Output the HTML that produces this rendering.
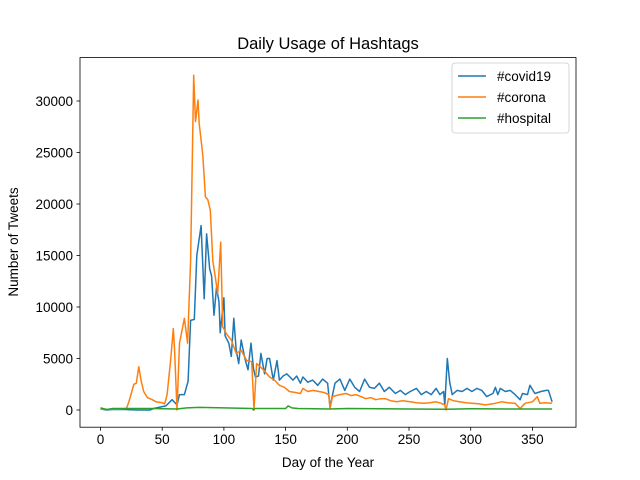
<!DOCTYPE html>
<html><head><meta charset="utf-8"><style>
body{margin:0;background:#fff;}
svg{display:block;font-family:"Liberation Sans","DejaVu Sans",sans-serif;}
</style></head><body>
<svg id="chart" width="640" height="480" xmlns="http://www.w3.org/2000/svg">
<rect width="640" height="480" fill="#fff"/>
<text x="328" y="49" font-size="16.5" text-anchor="middle">Daily Usage of Hashtags</text>
<g id="plot"></g>
<g id="axes"></g>
<rect x="80" y="57.6" width="496" height="369.6" fill="none" stroke="#000" stroke-width="0.8"/>
<text x="328" y="467" font-size="13.5" text-anchor="middle">Day of the Year</text>
<text transform="translate(18,242) rotate(-90)" font-size="13.5" text-anchor="middle">Number of Tweets</text>
<g>
<rect x="452" y="63" width="117" height="70" rx="3" fill="#fff" fill-opacity="0.8" stroke="#ccc" stroke-width="0.8"/>
<g><line x1="458" y1="76" x2="486" y2="76" stroke="#1f77b4" stroke-width="1.5"/><text x="497" y="81" font-size="13.5">#covid19</text></g>
<g><line x1="458" y1="97" x2="486" y2="97" stroke="#ff7f0e" stroke-width="1.5"/><text x="497" y="102" font-size="13.5">#corona</text></g>
<g><line x1="458" y1="118" x2="486" y2="118" stroke="#2ca02c" stroke-width="1.5"/><text x="497" y="123" font-size="13.5">#hospital</text></g>
</g>
</svg>
<script>
const xTicks=[0,50,100,150,200,250,300,350];
const yTicks=[0,5000,10000,15000,20000,25000,30000];
const covidDays=[0,5,10,20,30,40,43,53,58,62,64,68,71,73,76,78,81.5,84,86,88.5,90,92,94,96,97,100,101,104,106,108,110,112,114,117,119.5,122,124,125.5,128,130,133,135,137,140,143,145,148,151,156,159,162,164,168,172,176,180,184,186,190,194,198,202,206,210,214,218,222,226,230,234,239,243,247,251,256,260,264,268,272,275,278,279,281,283,285,289,293,297,301,305,309,313,318,320,322,324,328,332,336,340,342,346,348,352,357,361,363,366];
const covidVals=[100,0,50,50,0,0,150,400,1000,500,1500,1500,2800,8700,8800,15000,17900,10800,17100,13700,13000,9200,11900,10500,7500,10900,7200,6500,5200,8900,5800,4500,6800,5000,3900,6500,4000,3200,3300,5500,3500,5000,5000,2900,4800,2900,3300,3500,2900,3300,2600,3200,2700,2900,2400,3000,2600,300,2600,3000,1900,3000,2200,1800,3000,2200,2100,2600,1800,2200,1600,1900,1500,1800,2100,1500,1800,1500,2100,1500,1800,500,5000,2700,1500,1900,1800,2100,1800,2100,1900,1300,1600,2200,1500,2100,1800,1900,1500,1000,1600,1500,2400,1600,1800,1900,1900,800];
const coronaDays=[0,5,10,15,21,23,25,27,29,31,33,35,38,42,45,50,52,54,57,59,60,62,64,68,70.6,73,75.5,77,79,80,81.5,83,85,87,89,91,93,95,97.4,99,102,106,110,114,118.5,122.5,124.4,126.5,132,137,141,145,149,153,158,162,164,168,172,177,181,185,186,188,194,199,203,207,211,215,219,223,227,231,235,240,245,251,256,262,267,272,276,279,280,282,286,291,296,301,306,312,318,325,330,336,340,344,350,354,356,360,366];
const coronaVals=[100,50,100,100,150,800,1600,2500,2600,4200,2800,1800,1200,1000,800,700,600,1500,5000,7900,6000,0,6500,8900,6500,14500,32500,28000,30100,27800,26200,24600,20700,20400,19400,14500,12900,11300,16300,8100,7400,6800,5500,5800,4800,4700,0,4500,3900,3200,2900,2400,2200,1800,1700,1600,2100,1800,1900,1800,1700,1500,150,1300,1500,1600,1400,1500,1300,1100,1200,1000,1100,1100,900,800,900,800,700,650,700,800,650,500,0,1100,900,800,700,650,600,500,600,800,700,650,150,650,800,1300,650,700,650];
const hospDays=[0,5,10,40,62,70,80,100,123,124,125,150,152,155,160,186,200,250,280,300,340,366];
const hospVals=[200,50,150,150,100,200,250,200,150,0,150,150,400,200,150,100,150,100,80,120,100,100];

const X0=80,X1=576,Y0=57.6,Y1=427.2;
const xS=d=>100.5+d*1.234;
const yS=v=>410-v*0.0103;
const NS='http://www.w3.org/2000/svg';
const plot=document.getElementById('plot'),axes=document.getElementById('axes');
function mk(tag,attrs,parent){const e=document.createElementNS(NS,tag);for(const k in attrs)e.setAttribute(k,attrs[k]);parent.appendChild(e);return e;}
xTicks.forEach(t=>{
  const g=mk('g',{},axes);
  
  
  mk('line',{x1:xS(t),x2:xS(t),y1:Y1,y2:Y1+3.5,stroke:'#000','stroke-width':0.8},g);
  const tx=mk('text',{x:xS(t),y:Y1+17,'font-size':13.5,'text-anchor':'middle'},g);tx.textContent=t;
});
yTicks.forEach(t=>{
  const g=mk('g',{},axes);
  
  
  mk('line',{x1:X0-3.5,x2:X0,y1:yS(t),y2:yS(t),stroke:'#000','stroke-width':0.8},g);
  const tx=mk('text',{x:X0-7,y:yS(t)+5,'font-size':13.5,'text-anchor':'end'},g);tx.textContent=t;
});
function line(days,vals,color,name){
  const pts=days.map((d,i)=>xS(d).toFixed(1)+','+yS(vals[i]).toFixed(1)).join(' ');
  const p=mk('polyline',{points:pts,fill:'none',stroke:color,'stroke-width':1.5,'stroke-linejoin':'round'},plot);
  
  
}
line(covidDays,covidVals,'#1f77b4','line-covid19');
line(coronaDays,coronaVals,'#ff7f0e','line-corona');
line(hospDays,hospVals,'#2ca02c','line-hospital');
</script>
</body></html>
